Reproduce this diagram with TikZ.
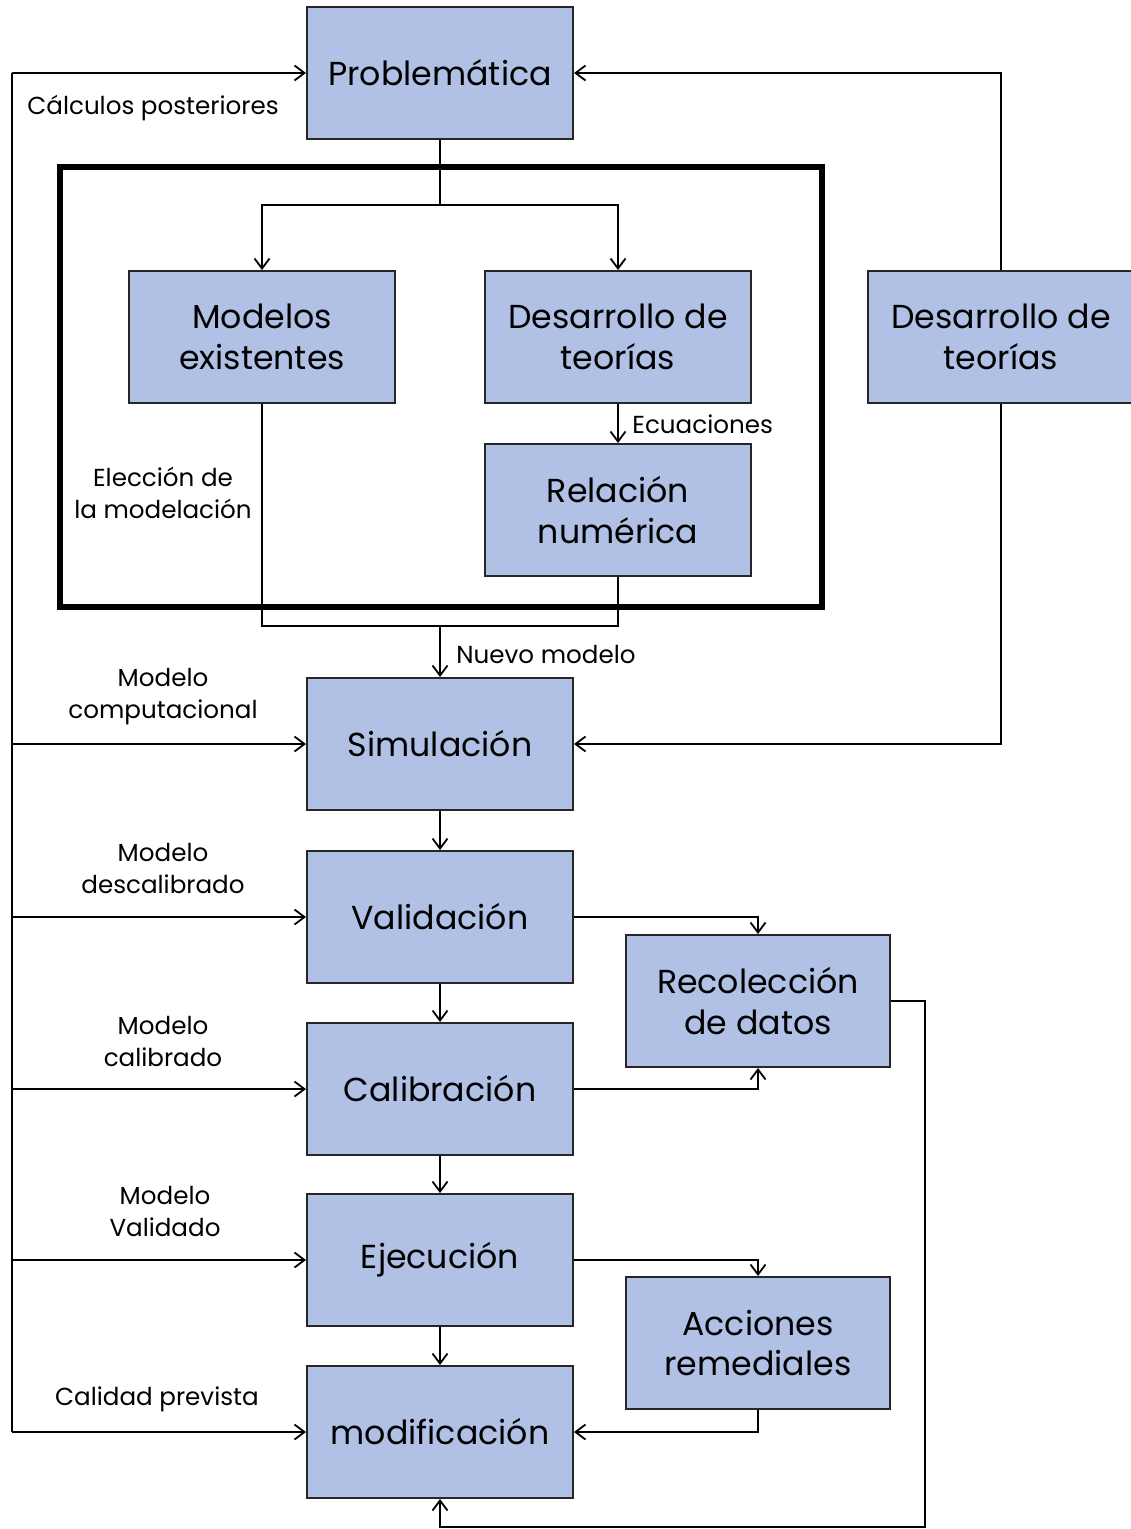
\documentclass[tikz,border=0pt]{standalone}
\usepackage{fontspec}
\setmainfont{Poppins}
\usetikzlibrary{positioning,arrows.meta}
\definecolor{boxblue}{RGB}{176,193,229}
\begin{document}
\begin{tikzpicture}[
    x=0.5pt, y=-0.5pt,
    >={Straight Barb[length=5pt,width=7.5pt]},
    stage/.style={draw=black!85,fill=boxblue,line width=1pt,minimum width=133pt,minimum height=66pt,align=center,inner sep=0pt,font=\fontsize{16.6}{20.5}\selectfont},
    note/.style={align=center,inner sep=0pt,font=\fontsize{12.3}{16}\selectfont},
    wire/.style={line width=0.9pt},
    link/.style={wire,->}
  ]
    \useasboundingbox (0,0) rectangle (1130,1529);

    % boxes
    \node[stage] (prob) at (440,73) {Problemática};
    \node[stage] (exist) at (262,337) {Modelos\\existentes};
    \node[stage] (teoin) at (618,337) {Desarrollo de\\teorías};
    \node[stage] (rel) at (618,510) {Relación\\numérica};
    \node[stage] (teoout) at (1001,337) {Desarrollo de\\teorías};
    \node[stage] (sim) at (440,744) {Simulación};
    \node[stage] (val) at (440,917) {Validación};
    \node[stage,minimum width=132pt] (datos) at (758,1001) {Recolección\\de datos};
    \node[stage] (cal) at (440,1089) {Calibración};
    \node[stage] (eje) at (440,1260) {Ejecución};
    \node[stage,minimum width=132pt] (acc) at (758,1343) {Acciones\\remediales};
    \node[stage] (modi) at (440,1432) {modificación};

    % thick frame
    \draw[line width=3pt] (60,167) rectangle (822,607);

    % labels
    \node[note,anchor=west] (calc) at (27,108) {Cálculos posteriores};
    \node[note] (elec) at (163,493) {Elección de\\la modelación};
    \node[note,anchor=west] (ecu) at (632,424) {Ecuaciones};
    \node[note,anchor=west] (nuevo) at (456,655) {Nuevo modelo};
    \node[note] (mcomp) at (163,697) {Modelo\\computacional};
    \node[note] (mdesc) at (163,869) {Modelo\\descalibrado};
    \node[note] (mcal) at (163,1041) {Modelo\\calibrado};
    \node[note] (mval) at (165,1211) {Modelo\\Validado};
    \node[note] (calid) at (157,1399) {Calidad prevista};

    % helper points
    \coordinate (L) at (12,73);
    \coordinate (split) at (440,205);
    \coordinate (join) at (440,626);
    \coordinate (R) at (925,1527);

    % top part
    \draw[wire] (prob.south) -- (split);
    \draw[link] (split) -| (exist.north);
    \draw[link] (split) -| (teoin.north);
    \draw[link] (teoin) -- (rel);
    \draw[wire] (exist.south) |- (join);
    \draw[wire] (rel.south) |- (join);
    \draw[link] (join) -- (sim.north);
    \draw[link] (teoout.north) |- (prob.east);
    \draw[link] (teoout.south) |- (sim.east);

    % main chain
    \draw[link] (sim) -- (val);
    \draw[link] (val) -- (cal);
    \draw[link] (cal) -- (eje);
    \draw[link] (eje) -- (modi);

    % right side
    \draw[link] (val.east) -| (datos.north);
    \draw[link] (cal.east) -| (datos.south);
    \draw[link] (eje.east) -| (acc.north);
    \draw[link] (acc.south) |- (modi.east);
    \draw[link] (datos.east) -| (R) -| (modi.south);

    % left rail
    \draw[wire] (L |- modi.west) -- (L);
    \draw[link] (L) -- (prob.west);
    \foreach \n in {sim,val,cal,eje,modi}
      \draw[link] (L |- \n.west) -- (\n.west);
\end{tikzpicture}
\end{document}
